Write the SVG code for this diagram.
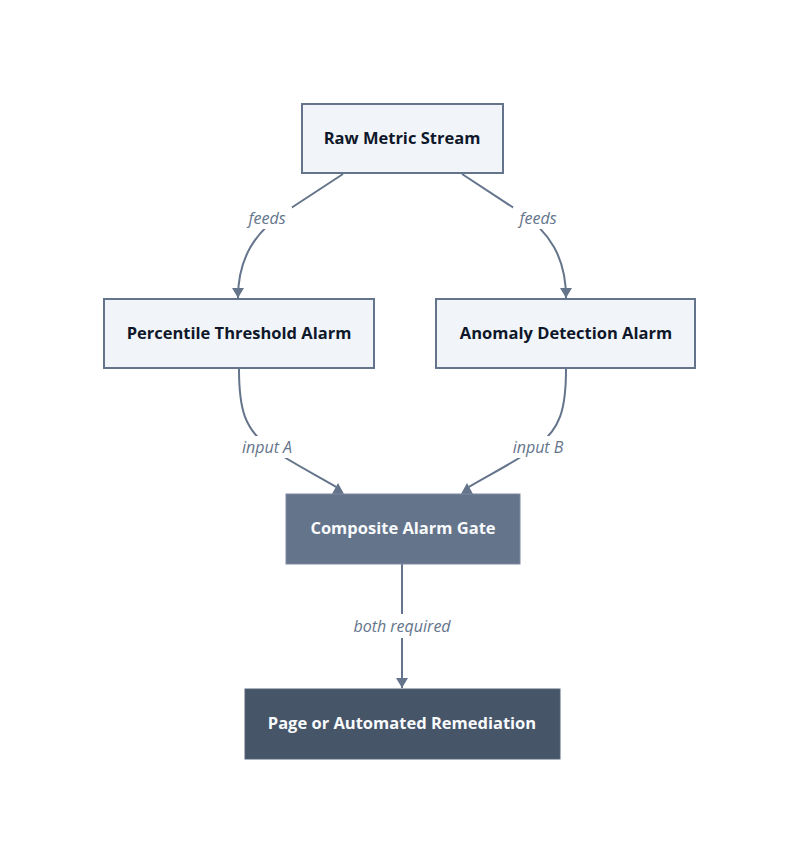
<svg xmlns="http://www.w3.org/2000/svg" width="800" height="863" viewBox="0 0 800 863">
<style>
.node-light rect{fill:#f1f5f9;stroke:#64748b;stroke-width:2}
.node-mid rect{fill:#64748b;stroke:#7c8aa0;stroke-width:1}
.node-dark rect{fill:#475569;stroke:#56647a;stroke-width:1}
.title{font-family:"Open Sans","Liberation Sans",sans-serif;font-weight:700;font-size:16.5px;text-anchor:middle;dominant-baseline:central}
.node-light .title{fill:#0f172a}
.node-mid .title,.node-dark .title{fill:#f8fafc}
.edge{fill:none;stroke:#64748b;stroke-width:2}
.arrow{fill:#64748b}
.lbg{fill:#ffffff}
.lbl{font-family:"Open Sans","Liberation Sans",sans-serif;font-style:italic;font-size:16px;fill:#64748b;text-anchor:middle;dominant-baseline:central}
</style>
<defs>
<marker id="ah" viewBox="0 0 10 12" refX="10" refY="6" markerWidth="10" markerHeight="12" markerUnits="userSpaceOnUse" orient="auto">
<path d="M0,0 L10,6 L0,12 z" class="arrow"/>
</marker>
</defs>
<rect width="800" height="863" fill="#ffffff"/>
<g id="connectors">
<path class="edge" d="M343,174 L285,212 C255,232 238,258 238,298" marker-end="url(#ah)"/>
<path class="edge" d="M462,174 L520,212 C550,232 566,258 566,298" marker-end="url(#ah)"/>
<path class="edge" d="M239,369 C239,410 245,428 267,446 C290,462 318,476 338,488"/>
<polygon class="arrow" points="332,494 338,483 344,494"/>
<path class="edge" d="M566,369 C566,410 560,428 538,446 C515,462 487,476 467,488"/>
<polygon class="arrow" points="461,494 467,483 473,494"/>
<path class="edge" d="M402,564 L402,688" marker-end="url(#ah)"/>
<rect class="lbg" x="242" y="207" width="50" height="22"/>
<text class="lbl" x="267" y="218">feeds</text>
<rect class="lbg" x="513" y="207" width="50" height="22"/>
<text class="lbl" x="538" y="218">feeds</text>
<rect class="lbg" x="235" y="436" width="64" height="22"/>
<text class="lbl" x="267" y="447">input A</text>
<rect class="lbg" x="506" y="436" width="64" height="22"/>
<text class="lbl" x="538" y="447">input B</text>
<rect class="lbg" x="348" y="614" width="108" height="24"/>
<text class="lbl" x="402" y="626">both required</text>
</g>
<g id="raw" class="node-light">
<rect x="302" y="104" width="201" height="69"/>
<text class="title" x="402" y="137">Raw Metric Stream</text>
</g>
<g id="percentile" class="node-light">
<rect x="104" y="299" width="270" height="69"/>
<text class="title" x="239" y="332">Percentile Threshold Alarm</text>
</g>
<g id="anomaly" class="node-light">
<rect x="436" y="299" width="259" height="69"/>
<text class="title" x="566" y="332">Anomaly Detection Alarm</text>
</g>
<g id="composite" class="node-mid">
<rect x="286" y="494" width="234" height="70"/>
<text class="title" x="403" y="527">Composite Alarm Gate</text>
</g>
<g id="page" class="node-dark">
<rect x="245" y="689" width="315" height="70"/>
<text class="title" x="402" y="722">Page or Automated Remediation</text>
</g>
</svg>
